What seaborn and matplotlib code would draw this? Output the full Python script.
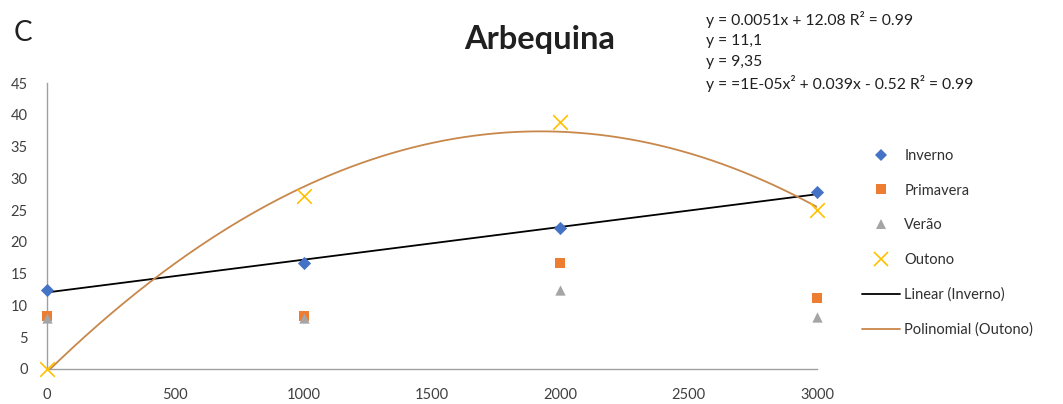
import numpy as np
import pandas as pd
import matplotlib
matplotlib.use("Agg")
import matplotlib.pyplot as plt
import seaborn as sns
from matplotlib.lines import Line2D

sns.set_theme(style="white")
plt.rcParams['font.family'] = ['Lato', 'DejaVu Sans']

# data
altitude = [0, 1000, 2000, 3000]
inverno = [12.5, 16.6, 22.2, 27.8]
primavera = [8.3, 8.3, 16.7, 11.1]
verao = [8.0, 8.0, 12.4, 8.2]
outono = [0.0, 27.2, 38.8, 25.0]
series_names = ["Inverno", "Primavera", "Verão", "Outono"]
equations = ["y = 0.0051x + 12.08 R² = 0.99", "y = 11,1", "y = 9,35",
             "y = =1E-05x² + 0.039x - 0.52 R² = 0.99"]
x_ticks = [0, 500, 1000, 1500, 2000, 2500, 3000]
y_ticks = [0, 5, 10, 15, 20, 25, 30, 35, 40, 45]

colors = ["#4472C4", "#ED7D31", "#A5A5A5", "#FFC000"]
markers = ["D", "s", "^", "x"]
sizes = [45, 50, 55, 110]

fig = plt.figure(figsize=(10.63, 4.04), dpi=100)
ax = fig.add_axes([47/1063, 1-369/404, (817-47)/1063, (369-83)/404])

# trendlines
xs = np.linspace(0, 3000, 300)
lin = np.polyfit(altitude, inverno, 1)
poly = np.polyfit(altitude, outono, 2)
sns.lineplot(x=xs, y=np.polyval(lin, xs), ax=ax, color="black", lw=1.3, zorder=2)
sns.lineplot(x=xs, y=np.polyval(poly, xs), ax=ax, color="#C8874B", lw=1.3, zorder=2)

for vals, c, m, s in zip([inverno, primavera, verao, outono], colors, markers, sizes):
    if m == "x":
        sns.scatterplot(x=altitude, y=vals, ax=ax, color=c, marker=m, s=s,
                        linewidth=1.2, zorder=3, clip_on=False)
    else:
        sns.scatterplot(x=altitude, y=vals, ax=ax, color=c, marker=m, s=s,
                        linewidth=0, zorder=3, clip_on=False)

ax.set_xlim(0, 3000)
ax.set_ylim(0, 45)
ax.set_xticks(x_ticks)
ax.set_yticks(y_ticks)
ax.tick_params(axis='both', length=0, labelsize=10.5, colors="#404040")
ax.tick_params(axis='x', pad=14)
ax.tick_params(axis='y', pad=14)
for sp in ["top", "right"]:
    ax.spines[sp].set_visible(False)
for sp in ["left", "bottom"]:
    ax.spines[sp].set_color("#A0A0A0")
    ax.spines[sp].set_linewidth(1.0)
ax.grid(False)

fig.text(540/1063, 1-40/404, "Arbequina", ha="center", va="center",
         fontsize=23.5, fontweight="bold", color="#202020")
fig.text(14/1063, 1-33/404, "C", ha="left", va="center", fontsize=20, color="#202020")
for i, eq in enumerate(equations):
    fig.text(706/1063, 1-(20 + i*21)/404, eq, ha="left", va="center",
             fontsize=11.3, color="#202020")

handles = [Line2D([], [], ls="none", marker=m, color=c, markersize=ms,
                  markeredgewidth=(1.2 if m == "x" else 0))
           for m, c, ms in zip(markers, colors, [6.5, 7, 7.5, 10])]
handles += [Line2D([], [], color="black", lw=1.3),
            Line2D([], [], color="#C8874B", lw=1.3)]
labels = series_names + ["Linear (Inverno)", "Polinomial (Outono)"]
fig.legend(handles, labels, loc="upper left", bbox_to_anchor=(856/1063, 1-143/404),
           frameon=False, fontsize=10.5, handlelength=2.6, handletextpad=0.3,
           labelspacing=1.42, borderaxespad=0, labelcolor="#303030")

fig.savefig("out.png", dpi=100)
